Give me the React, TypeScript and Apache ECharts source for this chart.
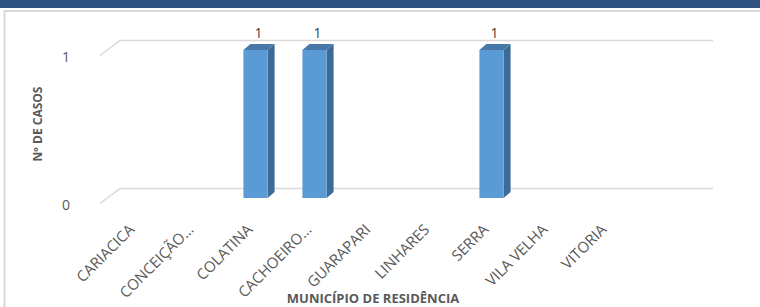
import React, { useEffect, useRef } from "react";
import * as echarts from "echarts";

const categories = [
  "CARIACICA",
  "CONCEIÇÃO…",
  "COLATINA",
  "CACHOEIRO…",
  "GUARAPARI",
  "LINHARES",
  "SERRA",
  "VILA VELHA",
  "VITORIA",
];
const casos = [0, 0, 1, 1, 0, 0, 1, 0, 0];
const yTicks = [0, 1];
const xTitle = "MUNICÍPIO DE RESIDÊNCIA";
const yTitle = "Nº DE CASOS";

const FRONT = "#5b9bd5";
const SIDE = "#3d6b97";
const TOP = "#4778a8";
const GRID = "#d9d9d9";
const TEXT = "#595959";

export default function App() {
  const ref = useRef<HTMLDivElement>(null);
  useEffect(() => {
    if (!ref.current) return;
    const chart = echarts.init(ref.current, null, { renderer: "svg" });
    const option: any = {
      animation: false,
      backgroundColor: "#ffffff",
      textStyle: { fontFamily: "'Open Sans', sans-serif" },
      graphic: [
        { type: "rect", shape: { x: 0, y: 0, width: 760, height: 8 }, style: { fill: "#2f5282" }, z: 100 },
        { type: "line", shape: { x1: 4.5, y1: 10, x2: 4.5, y2: 307 }, style: { stroke: GRID, lineWidth: 2 }, z: 100 },
        { type: "line", shape: { x1: 4, y1: 11, x2: 760, y2: 11 }, style: { stroke: GRID, lineWidth: 2 }, z: 100 },
        {
          type: "text",
          x: 373,
          y: 291,
          z: 100,
          style: {
            text: xTitle,
            fill: TEXT,
            fontSize: 13,
            fontWeight: "bold",
            fontFamily: "'Open Sans', sans-serif",
            align: "center",
            verticalAlign: "top",
          },
        },
      ],
      grid: { left: 108, right: 121, top: 50, bottom: 109, containLabel: false, outerBoundsMode: "none" },
      xAxis: {
        type: "category",
        data: categories,
        axisLine: { show: false },
        axisTick: { show: false },
        splitLine: { show: false },
        axisLabel: {
          rotate: 45,
          interval: 0,
          margin: 22,
          padding: [0, 9, 0, 0],
          fontSize: 15,
          color: TEXT,
          fontFamily: "'Open Sans', sans-serif",
        },
      },
      yAxis: {
        type: "value",
        min: 0,
        max: 1,
        interval: 1,
        axisLine: { show: false },
        axisTick: { show: false },
        splitLine: { show: false },
        axisLabel: { show: false },
        name: yTitle,
        nameLocation: "middle",
        nameGap: 65,
        nameTextStyle: { fontSize: 12, fontWeight: "bold", color: TEXT, fontFamily: "'Open Sans', sans-serif" },
      },
      series: [
        {
          type: "custom",
          name: "grid",
          z: 1,
          silent: true,
          data: yTicks.map((v) => [0, v]),
          encode: { x: 0, y: 1 },
          renderItem: (params: any, api: any) => {
            const cs = params.coordSys;
            const v = api.value(1);
            const p = api.coord([0, v]);
            const by = Math.round(p[1] - 10.5) + 0.5;
            const bl = cs.x + 12;
            const br = cs.x + cs.width + 74;
            return {
              type: "group",
              children: [
                {
                  type: "polyline",
                  shape: { points: [[bl - 20, by + 15], [bl, by], [br, by]] },
                  style: { stroke: GRID, lineWidth: 1.5, fill: null },
                },
                {
                  type: "text",
                  x: bl - 50,
                  y: by + 16,
                  style: {
                    text: String(v),
                    fill: TEXT,
                    fontSize: 14,
                    fontFamily: "'Open Sans', sans-serif",
                    align: "right",
                    verticalAlign: "middle",
                  },
                },
              ],
            };
          },
        },
        {
          type: "custom",
          name: "Casos",
          z: 5,
          data: casos.map((v, i) => [i, v]),
          encode: { x: 0, y: 1 },
          renderItem: (params: any, api: any) => {
            const val = api.value(1);
            if (!val) return { type: "group", children: [] };
            const idx = api.value(0);
            const base = api.coord([idx, 0]);
            const top = api.coord([idx, val]);
            const band = api.size([1, 0])[0];
            const w = band * 0.41;
            const x0 = base[0] - w / 2;
            const x1 = base[0] + w / 2;
            const dx = 7;
            const dy = -6;
            return {
              type: "group",
              children: [
                {
                  type: "polygon",
                  shape: { points: [[x1, top[1]], [x1 + dx, top[1] + dy], [x1 + dx, base[1] + dy], [x1, base[1]]] },
                  style: { fill: SIDE },
                },
                {
                  type: "polygon",
                  shape: { points: [[x0, top[1]], [x0 + dx, top[1] + dy], [x1 + dx, top[1] + dy], [x1, top[1]]] },
                  style: { fill: TOP },
                },
                {
                  type: "rect",
                  shape: { x: x0, y: top[1], width: w, height: base[1] - top[1] },
                  style: { fill: FRONT },
                },
                {
                  type: "text",
                  x: base[0] + 3,
                  y: top[1] - 18,
                  style: {
                    text: String(val),
                    fill: "#404040",
                    fontSize: 14,
                    fontFamily: "'Open Sans', sans-serif",
                    align: "center",
                    verticalAlign: "middle",
                  },
                },
              ],
            };
          },
        },
      ],
    };
    chart.setOption(option);
    return () => chart.dispose();
  }, []);
  return (
    <div
      ref={ref}
      style={{ position: "fixed", left: 0, top: 0, width: 760, height: 307, background: "#fff" }}
    />
  );
}
